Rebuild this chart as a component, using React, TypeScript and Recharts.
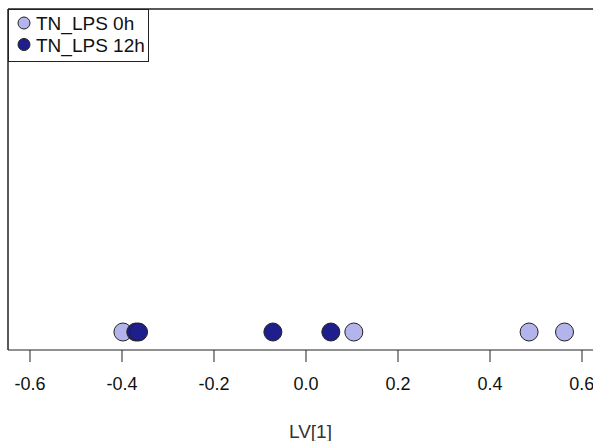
import { ScatterChart, Scatter, XAxis, YAxis, ReferenceLine } from 'recharts';

const lps0h = [-0.398, 0.104, 0.485, 0.562];
const lps12h = [-0.370, -0.364, -0.072, 0.054];
const xTicks = [-0.6, -0.4, -0.2, 0.0, 0.2, 0.4, 0.6];
const xDomain = [-0.6478, 0.6239];
const seriesNames = ['TN_LPS 0h', 'TN_LPS 12h'];
const seriesColors = ['#b4b4ec', '#1e1e8c'];

const toPoints = (vals: number[]) => vals.map((x) => ({ x, y: 0 }));

const Dot = (props: any) => {
  const { cx, cy, fill } = props;
  return <circle cx={cx} cy={cy} r={9} fill={fill} stroke="#222" strokeWidth={1} />;
};

const LegendBox = () => (
  <svg width={141} height={53} style={{ position: 'absolute', left: 8, top: 9, display: 'block' }}>
    <rect x={0.5} y={0.5} width={140} height={52} fill="#fff" stroke="#222" strokeWidth={1} />
    {seriesNames.map((name, i) => (
      <g key={name}>
        <circle cx={16} cy={14 + i * 21.5} r={6} fill={seriesColors[i]} stroke="#222" strokeWidth={1} />
        <text x={28} y={21 + i * 21.5} fontSize={19} fontFamily="Liberation Sans, Arial, sans-serif" fill="#111">
          {name}
        </text>
      </g>
    ))}
  </svg>
);

export default function App() {
  return (
    <div style={{ position: 'absolute', left: 0, top: 0, width: 593, height: 441, background: '#fff' }}>
      <ScatterChart width={593} height={441} margin={{ top: 9, right: 0, bottom: 0, left: 8 }}>
        <XAxis
          type="number"
          dataKey="x"
          domain={xDomain}
          allowDataOverflow
          ticks={xTicks}
          tickFormatter={(v: number) => v.toFixed(1)}
          height={91}
          tickSize={12}
          tickMargin={15}
          axisLine={{ stroke: '#222' }}
          tickLine={{ stroke: '#222' }}
          tick={{ fontSize: 18, fill: '#111', fontFamily: 'Liberation Sans, Arial, sans-serif' }}
          label={{
            value: 'LV[1]',
            position: 'insideBottom',
            offset: 3,
            dx: 10,
            fontSize: 19,
            fill: '#333',
            fontFamily: 'Liberation Sans, Arial, sans-serif',
          }}
        />
        <YAxis type="number" dataKey="y" domain={[-0.0557, 1]} allowDataOverflow hide />
        <ReferenceLine y={1} stroke="#222" strokeWidth={1.5} ifOverflow="visible" />
        <ReferenceLine x={xDomain[0]} stroke="#222" strokeWidth={1.5} ifOverflow="visible" />
        <Scatter name={seriesNames[0]} data={toPoints(lps0h)} fill={seriesColors[0]} shape={<Dot />} isAnimationActive={false} />
        <Scatter name={seriesNames[1]} data={toPoints(lps12h)} fill={seriesColors[1]} shape={<Dot />} isAnimationActive={false} />
      </ScatterChart>
      <LegendBox />
    </div>
  );
}
